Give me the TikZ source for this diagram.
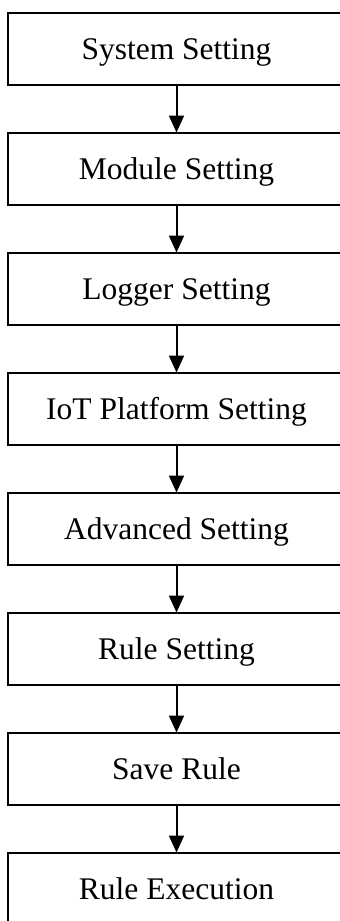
\documentclass[tikz,border=0pt]{standalone}
\usepackage{fontspec}
\setmainfont{Liberation Serif}
\usetikzlibrary{positioning,arrows.meta}

\begin{document}
\begin{tikzpicture}[x=1pt, y=1pt,
        stage/.style={draw, line width=2pt, minimum width=337pt, minimum height=72pt,
            inner sep=0pt, outer sep=0pt, node distance=48pt,
            font=\fontsize{31.5}{36}\selectfont, text height=21pt, text depth=0pt},
        flow/.style={line width=2pt, -{Triangle[width=15pt, length=17pt]}}]
    \useasboundingbox (0,0) rectangle (340,-921);

    \node[stage] (sys) at (176.5,-48.5) {System Setting};
    \node[stage, below=of sys] (mod) {Module Setting};
    \node[stage, below=of mod] (log) {Logger Setting};
    \node[stage, below=of log] (iot) {IoT Platform Setting};
    \node[stage, below=of iot] (adv) {Advanced Setting};
    \node[stage, below=of adv] (rule) {Rule Setting};
    \node[stage, below=of rule] (save) {Save Rule};
    \node[stage, below=of save] (exec) {Rule Execution};

    \foreach \a/\b in {sys/mod, mod/log, log/iot, iot/adv, adv/rule, rule/save, save/exec}
        \draw[flow] (\a.south) -- (\b.north);
\end{tikzpicture}
\end{document}
